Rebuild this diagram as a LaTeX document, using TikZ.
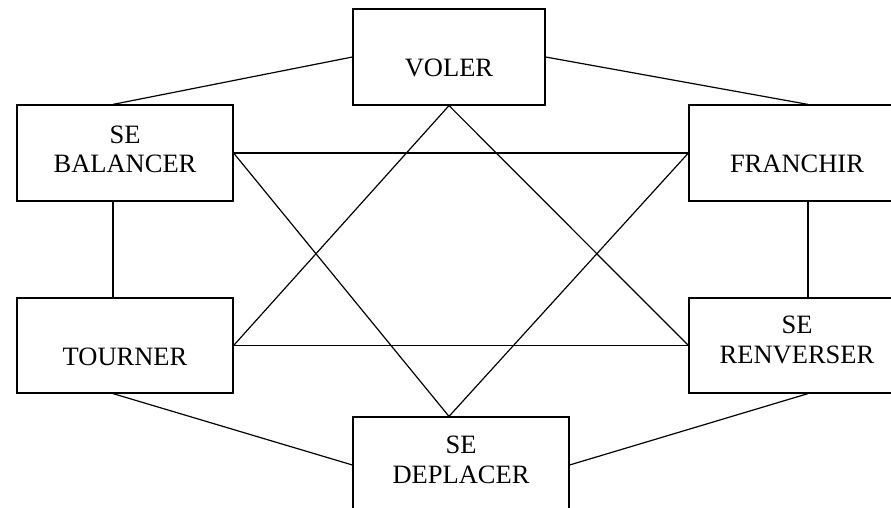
\documentclass[tikz,border=0pt]{standalone}
\usepackage{fontspec}
\setmainfont{Liberation Serif}
\usetikzlibrary{calc}
\begin{document}
\begin{tikzpicture}[x=1pt,y=-1pt,
  box/.style={draw,line width=1.2pt,rectangle,inner sep=0pt,minimum height=96pt},
  wide/.style={minimum width=216pt},
  txt/.style={font=\fontsize{26.5}{29.5}\selectfont,inner sep=0pt,align=center},
  link/.style={line width=1.2pt}]
\useasboundingbox (0,0) rectangle (891,508);
\clip (0,0) rectangle (891,508);
\fill[white] (0,0) rectangle (891,508);
% boxes
\node[box,minimum width=192pt] (vol) at (449,57) {};
\node[box,wide] (bal) at (125,153) {};
\node[box,wide] (fra) at (797,153) {};
\node[box,wide,minimum height=95pt] (tou) at (125,345.5) {};
\node[box,wide,minimum height=95pt] (ren) at (797,345.5) {};
\node[box,wide] (dep) at (461,465) {};
% texts
\node[txt,anchor=base] at (449,77) {VOLER};
\node[txt] at (125,149.5) {SE\\BALANCER};
\node[txt,anchor=base] at (797,172) {FRANCHIR};
\node[txt,anchor=base] at (125,365) {TOURNER};
\node[txt] at (797,340) {SE\\RENVERSER};
\node[txt] at (461,460) {SE\\DEPLACER};
% attachment points
\coordinate (balT) at ($(bal.north)+(-12,0)$);
\coordinate (balB) at ($(bal.south)+(-12,0)$);
\coordinate (fraT) at ($(fra.north)+(11,0)$);
\coordinate (fraB) at ($(fra.south)+(11,0)$);
\coordinate (touT) at ($(tou.north)+(-12,0)$);
\coordinate (touB) at ($(tou.south)+(-12,0)$);
\coordinate (renT) at ($(ren.north)+(11,0)$);
\coordinate (renB) at ($(ren.south)+(11,0)$);
\coordinate (depT) at ($(dep.north)+(-12,0)$);
% outer ring
\draw[link] (vol.west) -- (balT);
\draw[link] (vol.east) -- (fraT);
\draw[link] (balB) -- (touT);
\draw[link] (fraB) -- (renT);
\draw[link] (touB) -- (dep.west);
\draw[link] (renB) -- (dep.east);
% star
\draw[link] (vol.south) -- (tou.east);
\draw[link] (vol.south) -- (ren.west);
\draw[link] (tou.east) -- (ren.west);
\draw[link] (depT) -- (bal.east);
\draw[link] (depT) -- (fra.west);
\draw[link] (bal.east) -- (fra.west);
\end{tikzpicture}
\end{document}
